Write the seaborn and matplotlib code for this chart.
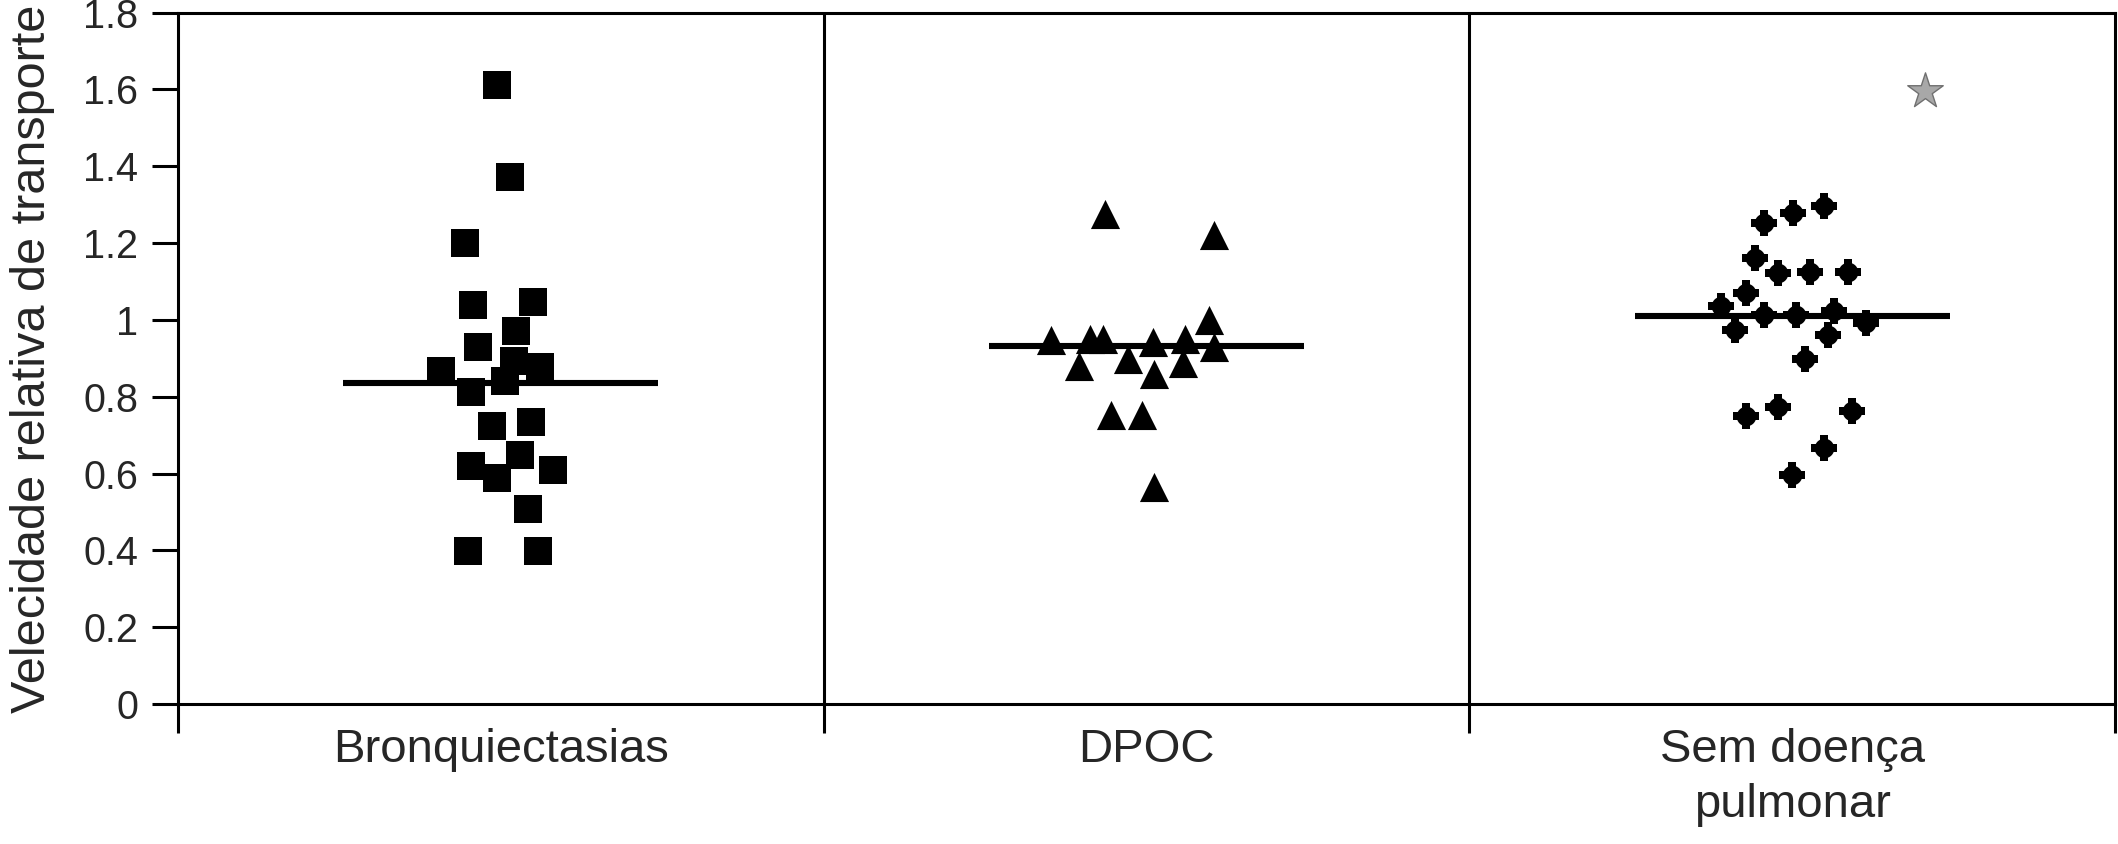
import matplotlib.pyplot as plt
import pandas as pd
import seaborn as sns

# groups on the x axis
groups = ["Bronquiectasias", "DPOC", "Sem doença\npulmonar"]

# relative transport velocity
bronq_vals = [1.611, 1.372, 1.199, 1.040, 1.047, 0.972, 0.930, 0.867, 0.892, 0.877,
              0.842, 0.812, 0.724, 0.734, 0.649, 0.620, 0.588, 0.608, 0.508, 0.398, 0.398]
bronq_jitter = [-0.006, 0.015, -0.055, -0.043, 0.050, 0.023, -0.035, -0.092, 0.021, 0.060,
                0.007, -0.046, -0.013, 0.047, 0.030, -0.046, -0.006, 0.081, 0.042, -0.050, 0.058]

dpoc_vals = [1.276, 1.221, 0.948, 0.950, 0.950, 0.881, 0.898, 0.942, 0.859, 0.951,
             0.887, 1.000, 0.930, 0.753, 0.753, 0.564]
dpoc_jitter = [-0.065, 0.105, -0.148, -0.087, -0.068, -0.104, -0.029, 0.010, 0.012, 0.059,
               0.056, 0.097, 0.105, -0.055, -0.007, 0.012]

sem_vals = [1.297, 1.278, 1.253, 1.162, 1.122, 1.126, 1.126, 1.071, 1.035, 1.013, 1.013,
            1.022, 0.991, 0.974, 0.961, 0.898, 0.750, 0.774, 0.764, 0.666, 0.596]
sem_jitter = [0.049, 0.001, -0.044, -0.058, -0.022, 0.027, 0.086, -0.072, -0.111, -0.044, 0.006,
              0.065, 0.115, -0.088, 0.055, 0.020, -0.072, -0.022, 0.092, 0.049, 0.000]

outlier_val = [1.595]
outlier_jitter = [0.206]

medians = [0.837, 0.933, 1.009]

yticks = [0, 0.2, 0.4, 0.6, 0.8, 1.0, 1.2, 1.4, 1.6, 1.8]
ytick_labels = ["0", "0.2", "0.4", "0.6", "0.8", "1", "1.2", "1.4", "1.6", "1.8"]


def make_df(vals, jitter, idx):
    return pd.DataFrame({"pos": [idx + j for j in jitter], "valor": vals})


sns.set_style("white")
plt.rcParams["font.family"] = ["Liberation Sans", "DejaVu Sans"]

fig, ax = plt.subplots(figsize=(21.18, 8.44), dpi=100)
fig.subplots_adjust(left=0.0840, right=0.9986, top=0.985, bottom=0.1659)

sns.scatterplot(data=make_df(bronq_vals, bronq_jitter, 0), x="pos", y="valor",
                marker="s", s=380, color="black", linewidth=0, ax=ax)
sns.scatterplot(data=make_df(dpoc_vals, dpoc_jitter, 1), x="pos", y="valor",
                marker="^", s=440, color="black", linewidth=0, ax=ax)
sem_df = make_df(sem_vals, sem_jitter, 2)
sns.scatterplot(data=sem_df, x="pos", y="valor",
                marker="o", s=200, color="black", linewidth=0, ax=ax)
sns.scatterplot(data=sem_df, x="pos", y="valor",
                marker="P", s=330, color="black", linewidth=0, ax=ax)
sns.scatterplot(data=make_df(outlier_val, outlier_jitter, 2), x="pos", y="valor",
                marker="*", s=720, color="#a8a8a8", edgecolor="#707070", linewidth=1, ax=ax)

# median bars
for i, m in enumerate(medians):
    ax.hlines(m, i - 0.244, i + 0.244, color="black", linewidth=4.4, zorder=4)

# panel dividers
for b in [0.5, 1.5]:
    ax.axvline(b, color="black", linewidth=2.2)

ax.set_xlim(-0.5, 2.5)
ax.set_ylim(0, 1.8)

ax.set_xticks([0, 1, 2], labels=groups)
ax.set_xticks([-0.5, 0.5, 1.5, 2.5], minor=True)
ax.tick_params(axis="x", which="major", length=0, pad=17, labelsize=34)
ax.tick_params(axis="x", which="minor", length=21, width=2.2, direction="out",
               color="black", bottom=True)
for lab in ax.get_xticklabels():
    lab.set_linespacing(1.35)
ax.set_yticks(yticks, labels=ytick_labels)
ax.tick_params(axis="y", length=18.7, width=2.2, direction="out", pad=10,
               labelsize=28.5, color="black", left=True)

ax.set_xlabel("")
ax.set_ylabel("Velecidade relativa de transporte", fontsize=35, labelpad=20)

for sp in ax.spines.values():
    sp.set_visible(True)
    sp.set_color("black")
    sp.set_linewidth(2.2)

plt.savefig("out.png", dpi=100)
plt.close()
